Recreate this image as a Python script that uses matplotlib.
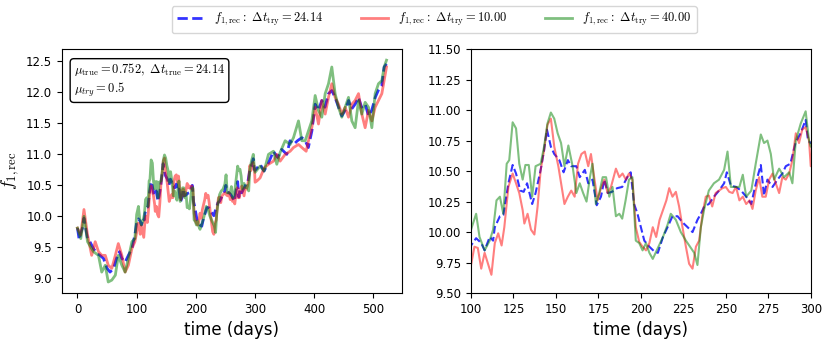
import numpy as np
import matplotlib
matplotlib.use('Agg')
import matplotlib.pyplot as plt
from matplotlib.ticker import FormatStrFormatter

plt.rcParams['mathtext.fontset'] = 'cm'

# Данные (дни, значения f_1,rec)
t_blue = [0, 3, 5.6, 8.4, 11, 14, 17, 21, 27, 33, 38, 44, 50, 55, 61, 66, 71, 75, 80.5, 86, 92, 97,
          100, 103, 106, 108, 111, 113, 114, 117, 119, 122, 124.5, 126.5, 129, 131, 133, 136, 138, 141,
          143, 144.7, 147, 149, 152, 154.5, 157, 159, 162, 164, 167, 169, 171.5, 174, 176.5, 178.5,
          180.5, 183, 186, 189, 192, 194, 196, 198, 200, 202, 205, 208, 210, 213, 215.7, 218.6, 221.6,
          224.5, 227.5, 230.4, 233.3, 235.3, 237.3, 240, 243, 246, 249, 250.6, 253, 256, 259, 262, 265,
          266.7, 268.6, 270.6, 272.5, 274.5, 277.5, 280.4, 283.3, 285.3, 288, 291, 294, 297, 298.4, 300,
          308.5, 315, 322.6, 331, 338, 345, 353.6, 359, 365, 371.6, 379, 384.6, 390, 396, 401.5, 407,
          412.7, 418, 424, 429.6, 435, 441, 446.5, 452, 458, 463, 469, 474.6, 480, 486, 491.6, 497, 503,
          508, 514, 518, 522]
f_blue = [9.80, 9.61, 9.72, 9.80, 9.96, 9.80, 9.63, 9.58, 9.47, 9.39, 9.36, 9.31, 9.15, 9.09, 9.15, 9.31,
          9.42, 9.31, 9.25, 9.36, 9.47, 9.69,
          9.89, 9.95, 9.91, 9.85, 9.96, 9.93, 10.04, 10.13, 10.14, 10.40, 10.55, 10.48, 10.34, 10.33,
          10.40, 10.23, 10.32, 10.51, 10.67, 10.84, 10.70, 10.64, 10.59, 10.49, 10.59, 10.54, 10.54,
          10.45, 10.51, 10.40, 10.43, 10.22, 10.29, 10.43, 10.32, 10.33, 10.36, 10.37, 10.45, 10.49,
          10.23, 10.15, 10.04, 9.93, 9.88, 9.84, 9.83, 9.96, 10.04, 10.13, 10.13, 10.08, 10.04, 10.00,
          10.10, 10.15, 10.21, 10.23, 10.29, 10.34, 10.40, 10.49, 10.38, 10.37, 10.34, 10.29, 10.23,
          10.34, 10.45, 10.55, 10.30, 10.43, 10.37, 10.43, 10.48, 10.54, 10.56, 10.73, 10.81, 10.92,
          10.75, 10.73,
          10.83, 10.72, 10.85, 11.04, 10.94, 11.07, 10.99, 11.21, 11.15, 11.21, 11.26, 11.21, 11.10,
          11.37, 11.80, 11.70, 11.86, 11.75, 11.97, 12.02, 11.91, 11.75, 11.61, 11.70, 11.86, 11.72,
          11.80, 11.91, 11.75, 11.80, 11.61, 11.70, 11.91, 12.02, 12.10, 12.40, 12.45]

t_red = [0, 5.6, 11, 17, 24, 30, 35.5, 41, 47, 52, 58, 64, 69, 75, 80.5, 86, 92, 97,
         100, 102, 104, 106, 108, 110, 112, 114, 116, 118, 119.6, 122, 124.5, 126.5, 128.4, 130.4, 131.4,
         133.3, 135.3, 137.3, 139.2, 141, 143, 145, 147, 149, 151.4, 153, 155, 157, 159, 161, 163, 165,
         167, 169, 170.6, 172.5, 174.5, 176.5, 178.5, 180.4, 182.4, 185.3, 187.3, 189.2, 191.2, 193, 195,
         197, 199, 201, 203, 205, 207, 209, 211, 213, 215, 216.7, 218.6, 220.6, 222.5, 224.5, 226.5,
         228.4, 230.4, 232.4, 234.3, 236.3, 238.2, 240, 242, 244, 246, 248, 250, 252, 254, 256, 258, 260,
         262, 264, 265.7, 267.6, 269.6, 271.5, 273.5, 275.5, 277.5, 279.4, 281.4, 283.3, 285.3, 287.3,
         289.2, 291.2, 293.1, 295, 297, 299, 300,
         303, 308.5, 315.3, 322.6, 331, 336.7, 342.3, 350.8, 359.2, 364.9, 373.3, 379, 386.3, 390.2,
         395.8, 401.5, 407.1, 412.7, 418.4, 424, 429.6, 435.2, 440.9, 446.5, 452.1, 457.8, 463.4, 469,
         474.7, 480.3, 485.9, 491.6, 497.2, 502.8, 508.4, 514.1, 518, 522]
f_red = [9.80, 9.69, 10.10, 9.69, 9.36, 9.58, 9.42, 9.36, 9.36, 9.20, 9.15, 9.36, 9.55, 9.36, 9.09, 9.20,
         9.47, 9.58,
         9.73, 9.88, 9.87, 9.70, 9.83, 9.74, 9.65, 9.91, 9.99, 9.89, 10.04, 10.37, 10.48, 10.40, 10.32,
         10.18, 10.07, 10.15, 10.02, 9.98, 10.21, 10.51, 10.67, 10.88, 10.93, 10.70, 10.54, 10.40, 10.23,
         10.29, 10.34, 10.29, 10.56, 10.64, 10.66, 10.54, 10.64, 10.45, 10.26, 10.36, 10.43, 10.32,
         10.37, 10.52, 10.45, 10.48, 10.43, 10.48, 10.43, 10.04, 9.92, 9.88, 9.85, 9.91, 10.04, 9.96,
         10.10, 10.18, 10.26, 10.36, 10.29, 10.33, 10.21, 10.04, 9.88, 9.74, 9.70, 9.88, 9.93, 10.15,
         10.29, 10.30, 10.21, 10.32, 10.34, 10.36, 10.37, 10.33, 10.32, 10.37, 10.26, 10.29, 10.23,
         10.26, 10.19, 10.34, 10.45, 10.29, 10.29, 10.43, 10.48, 10.40, 10.32, 10.45, 10.43, 10.48,
         10.59, 10.81, 10.73, 10.84, 10.86, 10.75, 10.54,
         10.56, 10.61, 10.77, 10.83, 10.88, 10.99, 10.88, 10.99, 11.04, 11.10, 11.15, 11.10, 11.04,
         11.21, 11.42, 11.75, 11.48, 11.86, 11.64, 11.91, 12.13, 11.91, 11.80, 11.64, 11.75, 11.59,
         11.80, 11.86, 11.97, 11.64, 11.42, 11.70, 11.53, 11.75, 11.86, 11.97, 12.18, 12.40]

t_green = [0, 5.6, 11, 17, 27, 35.5, 41, 47, 52, 58, 64, 69, 75, 80.5, 86, 92, 97,
           100, 103, 105, 108, 111, 113, 115, 117, 119, 121, 122.5, 124.5, 126.5, 128.4, 130.4, 132, 134,
           136, 138, 141, 143, 145, 147, 149, 151, 153, 155, 157.3, 159.8, 162, 164, 166, 168, 170, 171.5,
           173.5, 175.5, 177.5, 179.5, 181.4, 183.3, 185.3, 187.3, 189, 191, 193, 195, 197, 199, 201, 203,
           205, 207, 210, 213, 215.7, 217.6, 220.6, 223.5, 226.5, 229.4, 231.4, 233.3, 235.3, 237.3, 240,
           243, 246, 249, 251, 253, 256, 258, 260, 262, 265, 267.6, 270.6, 272.5, 274.5, 276.5, 278.4,
           281.4, 284.3, 287.3, 289.2, 291.2, 294.1, 297, 299, 300,
           308.5, 315.3, 322.6, 331, 336.7, 342.3, 350.8, 359.2, 364.9, 373.3, 379, 384.6, 390.2, 395.8,
           401.5, 407.1, 412.7, 418.4, 424, 429.6, 435.2, 440.9, 446.5, 452.1, 457.8, 463.4, 469, 474.7,
           480.3, 485.9, 491.6, 497.2, 502.8, 508.4, 514.1, 518, 522]
f_green = [9.80, 9.63, 9.99, 9.58, 9.42, 9.36, 9.09, 9.20, 8.93, 8.96, 9.04, 9.36, 9.20, 9.09, 9.31, 9.58,
           9.63,
           10.02, 10.15, 9.96, 9.85, 9.93, 10.02, 10.26, 10.29, 10.15, 10.56, 10.59, 10.90, 10.85, 10.56,
           10.43, 10.55, 10.55, 10.29, 10.54, 10.56, 10.70, 10.89, 10.98, 10.93, 10.81, 10.73, 10.54,
           10.71, 10.54, 10.32, 10.40, 10.32, 10.25, 10.45, 10.56, 10.23, 10.32, 10.45, 10.45, 10.29,
           10.37, 10.13, 10.15, 10.11, 10.26, 10.43, 10.45, 9.93, 9.91, 9.85, 9.91, 9.83, 9.78, 9.87,
           9.96, 10.06, 10.15, 10.10, 10.00, 9.93, 9.87, 9.83, 9.73, 10.04, 10.19, 10.34, 10.40, 10.43,
           10.51, 10.66, 10.37, 10.37, 10.37, 10.47, 10.29, 10.34, 10.56, 10.80, 10.73, 10.75, 10.64,
           10.43, 10.52, 10.45, 10.49, 10.40, 10.75, 10.89, 10.99, 10.75, 10.70,
           10.80, 10.72, 10.99, 11.04, 10.83, 11.02, 11.21, 11.15, 11.26, 11.53, 11.21, 11.21, 11.37,
           11.53, 11.94, 11.70, 11.59, 11.97, 12.13, 12.40, 11.97, 11.75, 11.59, 11.75, 11.91, 11.53,
           11.42, 11.86, 11.64, 11.83, 11.75, 11.42, 11.97, 12.13, 12.18, 12.40, 12.51]

labels = [r'$f_{1,\rm rec}:\ \Delta t_{\rm try}=24.14$',
          r'$f_{1,\rm rec}:\ \Delta t_{\rm try}=10.00$',
          r'$f_{1,\rm rec}:\ \Delta t_{\rm try}=40.00$']

fig = plt.figure(figsize=(8.3, 3.4), dpi=100)
ax1 = fig.add_axes([0.0747, 0.138, 0.4096, 0.7176])
ax2 = fig.add_axes([0.5675, 0.138, 0.4093, 0.7176])

for ax, lw in [(ax1, 2.0), (ax2, 1.5)]:
    ax.plot(t_blue, f_blue, 'b--', lw=lw, alpha=0.8, label=labels[0])
    ax.plot(t_red, f_red, 'r-', lw=lw, alpha=0.5, label=labels[1])
    ax.plot(t_green, f_green, 'g-', lw=lw, alpha=0.5, label=labels[2])
    ax.set_xlabel('time (days)', fontsize=12)
    ax.tick_params(labelsize=8.5)

ax1.set_ylabel(r'$f_{1,\rm rec}$', fontsize=13)
ax1.set_xticks([0, 100, 200, 300, 400, 500])
ax1.text(0.035, 0.95, r'$\mu_{\rm true}=0.752,\ \Delta t_{\rm true}=24.14$' + '\n' + r'$\mu_{try}=0.5$',
         transform=ax1.transAxes, fontsize=9, va='top', ha='left',
         bbox=dict(boxstyle='round,pad=0.3', fc='white', ec='black'))

ax2.set_xlim(100, 300)
ax2.set_ylim(9.5, 11.5)
ax2.set_yticks(np.arange(9.5, 11.51, 0.25))
ax2.yaxis.set_major_formatter(FormatStrFormatter('%.2f'))

h, l = ax1.get_legend_handles_labels()
fig.legend(h, l, loc='upper center', bbox_to_anchor=(0.523, 1.0), ncol=3, fontsize=9,
           handlelength=2.2, columnspacing=3.0)

plt.savefig('out.png', dpi=100)
